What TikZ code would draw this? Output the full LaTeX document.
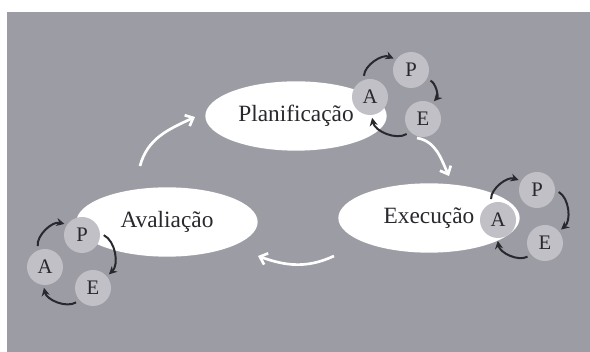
\documentclass[tikz,border=0pt]{standalone}
\usepackage{fontspec}
\setmainfont{Liberation Serif}
\usepackage{tikz}
\usetikzlibrary{shapes.geometric,arrows.meta}
\definecolor{fundo}{RGB}{156,156,164}
\definecolor{bola}{RGB}{192,192,198}
\definecolor{tinta}{RGB}{40,40,46}

\begin{document}
\begin{tikzpicture}[x=0.75pt,y=-0.75pt,
	fase/.style={ellipse,fill=white,minimum width=136pt,minimum height=52pt,inner sep=0pt,text=tinta,font=\fontsize{17.5}{20}\selectfont},
	letra/.style={circle,fill=bola,minimum size=27pt,inner sep=0pt,text=tinta,font=\fontsize{15.5}{17}\selectfont},
	seta/.style={draw=tinta,line width=1.5pt,-{Stealth[length=6pt,width=6pt]},shorten <=3pt,shorten >=2pt},
	ciclo/.style={draw=white,line width=2pt,-{Straight Barb[length=5pt,width=9pt]}}]
	% background
	\useasboundingbox (0,0) rectangle (590,352);
	\fill[white] (0,0) rectangle (590,352);
	\fill[fundo] (7,12) rectangle (590,352);
	
	% phases
	\node[fase] (plan) at (296,116) {Planificação};
	\node[fase] (exec) at (429,218) {Execução};
	\node[fase] (aval) at (167,222) {Avaliação};
	
	% planificacao
	\node[letra] (plA) at (370,97) {A};
	\node[letra] (plP) at (411,70) {P};
	\node[letra] (plE) at (423,119) {E};
	\draw[seta] (plA.110) to[bend left=55] (plP.145);
	\draw[seta] (plP.-30) to[bend left=55] (plE.60);
	\draw[seta] (plE.225) to[bend left=55] (plA.-85);
	
	% execucao
	\node[letra] (exA) at (498,220) {A};
	\node[letra] (exP) at (537,190) {P};
	\node[letra] (exE) at (545,243) {E};
	\draw[seta] (exA.112) to[bend left=55] (exP.150);
	\draw[seta] (exP.0) to[bend left=55] (exE.40);
	\draw[seta] (exE.220) to[bend left=55] (exA.-92);
	
	% avaliacao
	\node[letra] (avA) at (45,267) {A};
	\node[letra] (avP) at (82,235) {P};
	\node[letra] (avE) at (93,288) {E};
	\draw[seta] (avA.112) to[bend left=55] (avP.145);
	\draw[seta] (avP.5) to[bend left=55] (avE.40);
	\draw[seta] (avE.222) to[bend left=55] (avA.-95);
	
	% cycle
	\coordinate (c1s) at (140,166);
	\coordinate (c1e) at (195,117);
	\coordinate (c2s) at (417,138);
	\coordinate (c2e) at (449,176);
	\coordinate (c3s) at (334,256);
	\coordinate (c3e) at (258,256);
	\draw[ciclo] (c1s) to[out=75,in=205] (c1e);
	\draw[ciclo] (c2s) to[out=-10,in=115] (c2e);
	\draw[ciclo] (c3s) to[out=205,in=-20] (c3e);
\end{tikzpicture}
\end{document}
